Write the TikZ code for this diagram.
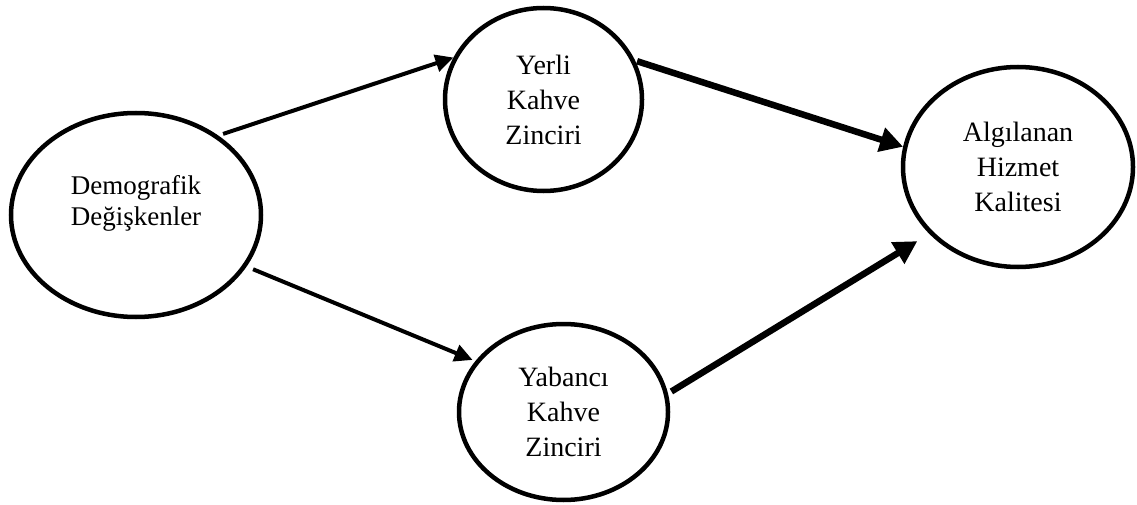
\documentclass[tikz,border=0pt]{standalone}
\usepackage{fontspec}
\setmainfont{Liberation Serif}
\usetikzlibrary{arrows.meta,shapes.geometric}
\begin{document}
\begin{tikzpicture}[x=1pt,y=-1pt]
\tikzset{
  bubble/.style={draw, ellipse, line width=4.5pt, inner sep=0pt, align=center,
    font=\fontsize{28}{35}\selectfont},
  lbl/.style={align=center, inner sep=0pt, font=\fontsize{27}{31}\selectfont},
  thinarrow/.style={-{Triangle[length=18pt,width=17pt]}, line width=4pt},
  thickarrow/.style={-{Triangle[length=23pt,width=24pt]}, line width=6.5pt},
}
\useasboundingbox (0,0) rectangle (1137,505);

% the four constructs
\node[bubble, minimum width=250pt, minimum height=204pt] (demo) at (136,215) {};
\node[lbl] (demotxt) at (136,203) {Demografik\\Değişkenler};
\node[bubble, minimum width=197pt, minimum height=183pt] (yerli) at (543.5,99.5) {Yerli\\Kahve\\Zinciri};
\node[bubble, minimum width=209pt, minimum height=176pt] (yabanci) at (563.5,412) {Yabancı\\Kahve\\Zinciri};
\node[bubble, minimum width=230pt, minimum height=200pt] (alg) at (1018,167) {Algılanan\\Hizmet\\Kalitesi};

% paths
\draw[thinarrow, shorten <=5pt] (demo.44) -- (yerli.155);
\draw[thinarrow, shorten <=7pt, shorten >=3pt] (demo.-25) -- (yabanci.150);
\draw[thickarrow, shorten <=2pt] (yerli.23) -- (alg.170);
\draw[thickarrow, shorten <=4pt, shorten >=14pt] (yabanci.10) -- (alg.217);
\end{tikzpicture}
\end{document}
